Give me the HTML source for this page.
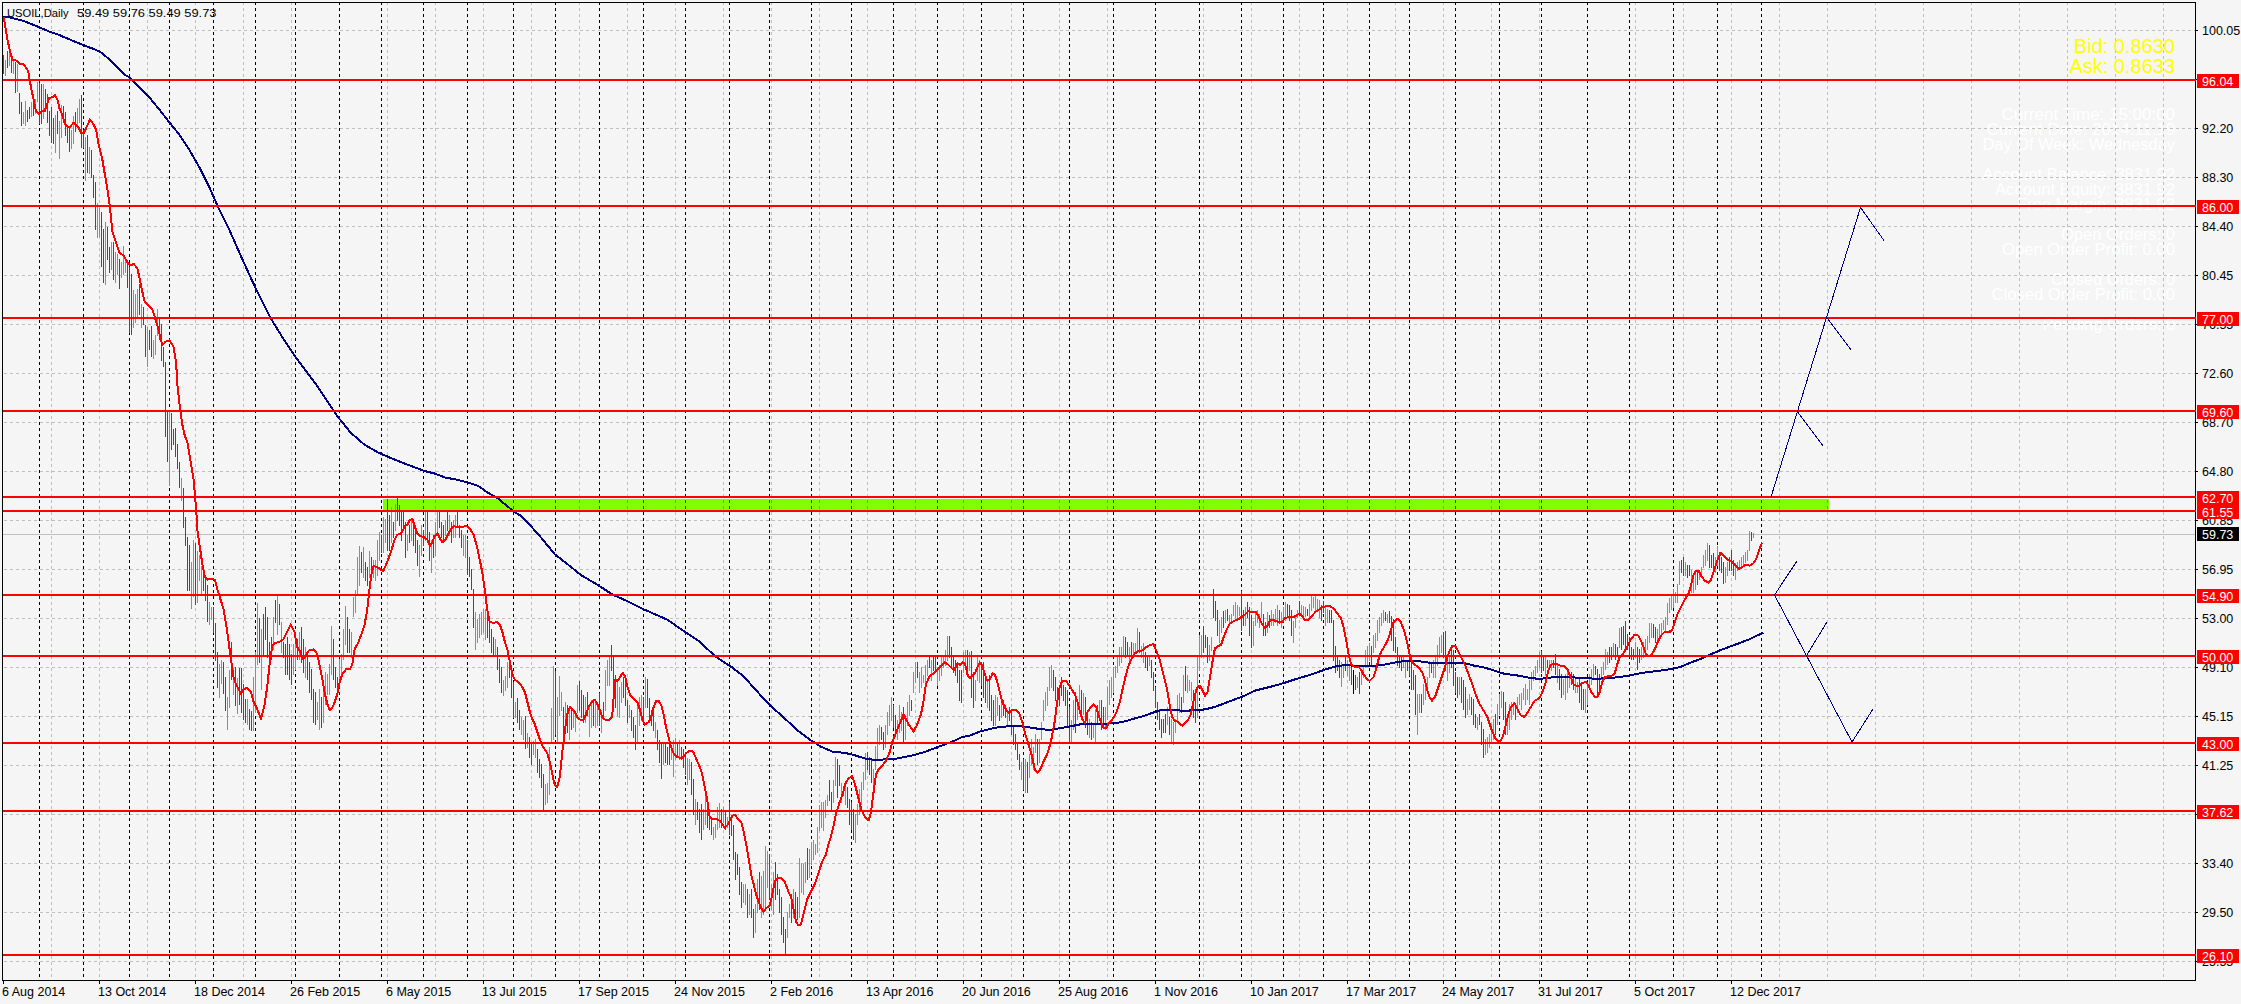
<!DOCTYPE html>
<html><head><meta charset="utf-8"><style>
html,body{margin:0;padding:0;background:#F5F5F5;width:2241px;height:1004px;overflow:hidden}
svg{display:block}
</style></head><body>
<svg width="2241" height="1004" viewBox="0 0 2241 1004" shape-rendering="crispEdges">
<text x="2175" y="120" font-family="Liberation Sans, sans-serif" font-size="16" fill="#FFF" text-anchor="end" textLength="173.4" lengthAdjust="spacingAndGlyphs">Current Time: 15:00:00</text>
<text x="2175" y="135" font-family="Liberation Sans, sans-serif" font-size="16" fill="#FFF" text-anchor="end" textLength="188.5" lengthAdjust="spacingAndGlyphs">Current Date: 2014.11.19</text>
<text x="2175" y="150" font-family="Liberation Sans, sans-serif" font-size="16" fill="#FFF" text-anchor="end" textLength="192.5" lengthAdjust="spacingAndGlyphs">Day Of Week: Wednesday</text>
<text x="2175" y="180" font-family="Liberation Sans, sans-serif" font-size="16" fill="#FFF" text-anchor="end" textLength="192.5" lengthAdjust="spacingAndGlyphs">Account Balance: 3831.92</text>
<text x="2175" y="195" font-family="Liberation Sans, sans-serif" font-size="16" fill="#FFF" text-anchor="end" textLength="180" lengthAdjust="spacingAndGlyphs">Account Equity: 3831.92</text>
<text x="2175" y="210" font-family="Liberation Sans, sans-serif" font-size="16" fill="#FFF" text-anchor="end" textLength="158" lengthAdjust="spacingAndGlyphs">Free Margin: 3831.92</text>
<text x="2175" y="240" font-family="Liberation Sans, sans-serif" font-size="16" fill="#FFF" text-anchor="end" textLength="114" lengthAdjust="spacingAndGlyphs">Open Orders: 0</text>
<text x="2175" y="255" font-family="Liberation Sans, sans-serif" font-size="16" fill="#FFF" text-anchor="end" textLength="173" lengthAdjust="spacingAndGlyphs">Open Order Profit: 0.00</text>
<text x="2175" y="285" font-family="Liberation Sans, sans-serif" font-size="16" fill="#FFF" text-anchor="end" textLength="124" lengthAdjust="spacingAndGlyphs">Closed Orders: 0</text>
<text x="2175" y="300" font-family="Liberation Sans, sans-serif" font-size="16" fill="#FFF" text-anchor="end" textLength="183.4" lengthAdjust="spacingAndGlyphs">Closed Order Profit: 0.00</text>
<text x="2175" y="330" font-family="Liberation Sans, sans-serif" font-size="16" fill="#FFF" text-anchor="end" textLength="132.6" lengthAdjust="spacingAndGlyphs">Pending Orders: 0</text>
<path d="M4 30.5H2195 M4 79.5H2195 M4 128.5H2195 M4 177.5H2195 M4 226.5H2195 M4 275.5H2195 M4 324.5H2195 M4 373.5H2195 M4 422.5H2195 M4 471.5H2195 M4 520.5H2195 M4 569.5H2195 M4 618.5H2195 M4 667.5H2195 M4 716.5H2195 M4 765.5H2195 M4 814.5H2195 M4 863.5H2195 M4 912.5H2195 M4 961.5H2195 M51.5 2V980 M99.5 2V980 M147.5 2V980 M195.5 2V980 M243.5 2V980 M291.5 2V980 M339.5 2V980 M387.5 2V980 M435.5 2V980 M483.5 2V980 M531.5 2V980 M579.5 2V980 M627.5 2V980 M675.5 2V980 M723.5 2V980 M771.5 2V980 M819.5 2V980 M867.5 2V980 M915.5 2V980 M963.5 2V980 M1011.5 2V980 M1059.5 2V980 M1107.5 2V980 M1155.5 2V980 M1203.5 2V980 M1251.5 2V980 M1299.5 2V980 M1347.5 2V980 M1395.5 2V980 M1443.5 2V980 M1491.5 2V980 M1539.5 2V980 M1587.5 2V980 M1635.5 2V980 M1683.5 2V980 M1731.5 2V980 M1779.5 2V980 M1827.5 2V980 M1875.5 2V980 M1923.5 2V980 M1971.5 2V980 M2019.5 2V980 M2067.5 2V980 M2115.5 2V980 M2163.5 2V980" stroke="#C0C0C0" stroke-width="1" stroke-dasharray="3 3" fill="none"/>
<path d="M39.5 2V980 M83.5 2V980 M129.5 2V980 M169.5 2V980 M213.5 2V980 M255.5 2V980 M295.5 2V980 M339.5 2V980 M381.5 2V980 M423.5 2V980 M467.5 2V980 M513.5 2V980 M555.5 2V980 M599.5 2V980 M643.5 2V980 M685.5 2V980 M729.5 2V980 M769.5 2V980 M811.5 2V980 M851.5 2V980 M893.5 2V980 M937.5 2V980 M981.5 2V980 M1023.5 2V980 M1069.5 2V980 M1113.5 2V980 M1155.5 2V980 M1199.5 2V980 M1241.5 2V980 M1283.5 2V980 M1323.5 2V980 M1369.5 2V980 M1409.5 2V980 M1455.5 2V980 M1499.5 2V980 M1541.5 2V980 M1587.5 2V980 M1629.5 2V980 M1673.5 2V980 M1717.5 2V980 M1761.5 2V980" stroke="#000" stroke-width="1" stroke-dasharray="3 3" fill="none"/>
<path d="M2.5 2.5H2195.5V980.5H2.5Z" stroke="#000" stroke-width="1" fill="none"/>
<rect x="383" y="499" width="1446" height="11" fill="#7FFF00"/>
<clipPath id="gc"><rect x="383" y="499" width="1446" height="11"/></clipPath>
<g clip-path="url(#gc)"><path d="M4 30.5H2195 M4 79.5H2195 M4 128.5H2195 M4 177.5H2195 M4 226.5H2195 M4 275.5H2195 M4 324.5H2195 M4 373.5H2195 M4 422.5H2195 M4 471.5H2195 M4 520.5H2195 M4 569.5H2195 M4 618.5H2195 M4 667.5H2195 M4 716.5H2195 M4 765.5H2195 M4 814.5H2195 M4 863.5H2195 M4 912.5H2195 M4 961.5H2195 M51.5 2V980 M99.5 2V980 M147.5 2V980 M195.5 2V980 M243.5 2V980 M291.5 2V980 M339.5 2V980 M387.5 2V980 M435.5 2V980 M483.5 2V980 M531.5 2V980 M579.5 2V980 M627.5 2V980 M675.5 2V980 M723.5 2V980 M771.5 2V980 M819.5 2V980 M867.5 2V980 M915.5 2V980 M963.5 2V980 M1011.5 2V980 M1059.5 2V980 M1107.5 2V980 M1155.5 2V980 M1203.5 2V980 M1251.5 2V980 M1299.5 2V980 M1347.5 2V980 M1395.5 2V980 M1443.5 2V980 M1491.5 2V980 M1539.5 2V980 M1587.5 2V980 M1635.5 2V980 M1683.5 2V980 M1731.5 2V980 M1779.5 2V980 M1827.5 2V980 M1875.5 2V980 M1923.5 2V980 M1971.5 2V980 M2019.5 2V980 M2067.5 2V980 M2115.5 2V980 M2163.5 2V980" stroke="#40C03F" stroke-width="1" stroke-dasharray="3 3" fill="none"/><path d="M39.5 2V980 M83.5 2V980 M129.5 2V980 M169.5 2V980 M213.5 2V980 M255.5 2V980 M295.5 2V980 M339.5 2V980 M381.5 2V980 M423.5 2V980 M467.5 2V980 M513.5 2V980 M555.5 2V980 M599.5 2V980 M643.5 2V980 M685.5 2V980 M729.5 2V980 M769.5 2V980 M811.5 2V980 M851.5 2V980 M893.5 2V980 M937.5 2V980 M981.5 2V980 M1023.5 2V980 M1069.5 2V980 M1113.5 2V980 M1155.5 2V980 M1199.5 2V980 M1241.5 2V980 M1283.5 2V980 M1323.5 2V980 M1369.5 2V980 M1409.5 2V980 M1455.5 2V980 M1499.5 2V980 M1541.5 2V980 M1587.5 2V980 M1629.5 2V980 M1673.5 2V980 M1717.5 2V980 M1761.5 2V980" stroke="#8000FF" stroke-width="1" stroke-dasharray="3 3" fill="none"/></g>
<rect x="3" y="534" width="2192" height="1" fill="#C0C0C0"/>
<path d="M5.5 60V76M9.5 51V66M13.5 61V74M17.5 64V92M23.5 112V124M25.5 101V126M31.5 102V117M35.5 99V114M37.5 82V102M43.5 84V119M55.5 115V153M59.5 121V159M61.5 105V138M71.5 130V149M73.5 116V144M77.5 108V127M79.5 99V123M85.5 137V181M89.5 147V174M97.5 203V238M99.5 208V237M105.5 222V285M111.5 242V270M115.5 252V283M117.5 254V275M121.5 262V278M123.5 246V275M125.5 257V273M133.5 290V328M135.5 294V323M137.5 289V318M141.5 304V328M147.5 327V367M153.5 340V359M155.5 335V355M157.5 309V336M169.5 412V486M181.5 478V501M191.5 562V609M193.5 540V597M197.5 551V603M199.5 555V581M201.5 566V596M209.5 602V625M211.5 607V620M219.5 664V698M221.5 660V684M227.5 697V730M229.5 670V708M233.5 668V695M237.5 678V714M247.5 699V725M253.5 677V731M255.5 652V713M257.5 603V665M261.5 629V690M273.5 617V650M277.5 596V635M281.5 622V653M293.5 644V675M295.5 644V670M299.5 632V660M305.5 647V678M317.5 702V720M319.5 689V730M323.5 684V723M325.5 672V705M327.5 674V695M329.5 664V695M331.5 626V675M339.5 659V688M341.5 654V678M343.5 629V660M345.5 606V645M351.5 632V658M353.5 597V617M355.5 590V613M357.5 557V596M359.5 546V586M363.5 547V578M369.5 551V578M373.5 560V578M375.5 560V581M377.5 540V576M379.5 532V561M383.5 517V553M385.5 519V543M391.5 507V543M395.5 504V531M407.5 535V551M411.5 520V541M419.5 545V577M421.5 525V556M425.5 512V541M431.5 540V573M435.5 522V556M437.5 512V536M445.5 520V536M449.5 515V536M453.5 520V538M455.5 515V538M463.5 535V556M465.5 535V558M475.5 612V650M477.5 619V643M479.5 614V638M481.5 612V635M483.5 609V633M485.5 609V640M495.5 639V655M503.5 680V696M505.5 676V691M507.5 662V688M515.5 702V718M521.5 717V735M523.5 720V740M527.5 733V748M533.5 741V755M535.5 739V758M545.5 784V805M547.5 783V803M549.5 747V795M551.5 708V743M553.5 666V740M557.5 697V743M559.5 676V716M561.5 692V711M565.5 702V726M569.5 707V740M573.5 712V728M575.5 713V732M577.5 685V713M585.5 697V723M589.5 707V737M591.5 700V728M595.5 700V728M597.5 705V726M601.5 710V733M605.5 670V711M607.5 660V686M609.5 657V686M617.5 682V716M619.5 687V718M621.5 682V703M629.5 705V718M637.5 705V743M639.5 697V726M641.5 695V721M645.5 677V708M655.5 722V738M663.5 744V765M671.5 749V760M673.5 740V777M675.5 738V760M679.5 740V760M687.5 758V785M689.5 759V780M695.5 799V825M703.5 809V830M705.5 794V825M713.5 827V840M715.5 824V838M717.5 807V830M719.5 803V828M723.5 807V823M727.5 817V828M743.5 884V903M745.5 884V905M749.5 894V915M755.5 904V933M757.5 879V913M761.5 876V918M763.5 871V915M765.5 846V908M767.5 851V888M771.5 884V910M773.5 872V915M787.5 912V938M789.5 904V918M793.5 889V918M799.5 858V918M801.5 863V893M803.5 864V895M805.5 862V883M809.5 849V878M811.5 842V865M813.5 840V860M815.5 844V855M817.5 827V853M819.5 805V831M821.5 802V828M823.5 802V831M825.5 800V818M827.5 795V806M833.5 780V803M835.5 757V786M841.5 783V803M845.5 782V805M855.5 814V843M857.5 804V825M859.5 789V815M861.5 782V805M863.5 772V790M865.5 753V780M873.5 769V790M875.5 746V770M877.5 728V760M879.5 725V745M885.5 725V748M887.5 712V735M889.5 705V726M891.5 697V721M897.5 720V740M899.5 705V733M901.5 712V731M905.5 715V740M907.5 702V726M909.5 695V716M913.5 672V693M915.5 662V683M919.5 672V693M921.5 667V688M923.5 675V683M925.5 665V683M927.5 660V676M931.5 660V681M937.5 667V686M939.5 665V681M941.5 657V676M943.5 657V668M945.5 650V666M947.5 636V661M963.5 652V673M965.5 650V666M969.5 652V671M975.5 680V701M977.5 657V681M979.5 660V683M987.5 682V708M995.5 695V726M997.5 697V716M1001.5 702V718M1007.5 710V726M1021.5 762V780M1025.5 759V793M1029.5 754V778M1031.5 739V765M1033.5 747V770M1035.5 734V753M1039.5 739V763M1041.5 722V740M1043.5 700V721M1045.5 692V711M1047.5 687V706M1049.5 667V691M1051.5 665V688M1071.5 720V743M1073.5 700V730M1077.5 702V720M1079.5 685V713M1083.5 693V715M1089.5 719V738M1093.5 724V738M1095.5 709V743M1099.5 700V720M1105.5 707V730M1107.5 687V720M1109.5 680V705M1111.5 677V698M1113.5 667V693M1115.5 666V678M1117.5 657V673M1119.5 647V666M1121.5 647V663M1123.5 636V656M1129.5 647V661M1133.5 643V656M1135.5 643V653M1137.5 628V651M1141.5 646V658M1143.5 643V663M1149.5 657V666M1167.5 707V725M1171.5 719V743M1173.5 722V745M1175.5 719V733M1177.5 695V723M1179.5 693V713M1183.5 675V703M1187.5 675V693M1189.5 680V691M1191.5 682V701M1197.5 657V718M1199.5 635V671M1201.5 635V658M1209.5 645V661M1211.5 637V651M1219.5 620V643M1221.5 617V633M1225.5 610V623M1229.5 615V623M1231.5 614V621M1233.5 605V616M1235.5 602V618M1237.5 605V618M1239.5 607V616M1245.5 607V626M1253.5 621V646M1255.5 612V626M1257.5 610V623M1259.5 614V628M1261.5 602V618M1267.5 612V633M1271.5 610V626M1273.5 614V626M1275.5 609V623M1277.5 605V626M1281.5 612V628M1283.5 607V621M1285.5 602V621M1293.5 621V643M1295.5 617V628M1297.5 610V618M1301.5 605V616M1303.5 606V616M1305.5 607V617M1309.5 604V618M1311.5 596V611M1313.5 597V608M1315.5 596V613M1317.5 599V611M1319.5 600V618M1325.5 607V626M1327.5 609V623M1341.5 662V687M1343.5 665V678M1347.5 660V676M1349.5 665V681M1357.5 677V688M1361.5 672V685M1363.5 665V678M1365.5 650V668M1367.5 646V666M1369.5 643V661M1373.5 635V653M1375.5 633V648M1377.5 620V641M1379.5 617V633M1381.5 613V626M1383.5 610V623M1387.5 614V623M1403.5 655V668M1405.5 660V678M1417.5 694V735M1419.5 694V713M1423.5 684V705M1425.5 682V700M1427.5 677V693M1429.5 661V678M1433.5 660V678M1435.5 657V678M1437.5 645V666M1439.5 637V658M1441.5 635V653M1447.5 660V681M1449.5 655V673M1459.5 677V695M1467.5 699V715M1469.5 694V710M1477.5 717V730M1485.5 739V755M1487.5 737V753M1489.5 734V748M1491.5 724V743M1493.5 719V740M1497.5 704V725M1499.5 694V715M1501.5 691V708M1507.5 714V735M1509.5 704V730M1511.5 702V720M1513.5 702V715M1517.5 697V713M1519.5 694V705M1521.5 693V710M1523.5 688V700M1525.5 684V705M1527.5 689V700M1529.5 680V705M1531.5 672V690M1533.5 670V681M1535.5 666V676M1537.5 660V673M1539.5 652V668M1545.5 655V676M1549.5 660V668M1551.5 660V671M1557.5 664V683M1563.5 679V695M1565.5 674V700M1567.5 672V693M1569.5 674V688M1575.5 679V693M1577.5 682V693M1585.5 689V713M1587.5 682V705M1589.5 674V690M1591.5 669V685M1593.5 664V680M1601.5 667V680M1603.5 662V675M1605.5 649V670M1607.5 652V665M1613.5 643V655M1619.5 628V648M1635.5 642V658M1641.5 647V660M1643.5 642V658M1645.5 639V650M1647.5 636V650M1649.5 623V643M1651.5 623V638M1657.5 629V643M1659.5 624V640M1661.5 623V635M1663.5 620V630M1665.5 617V633M1667.5 603V625M1669.5 598V613M1671.5 594V610M1673.5 589V608M1675.5 592V603M1677.5 584V603M1679.5 561V585M1685.5 562V576M1691.5 570V593M1693.5 577V593M1695.5 572V590M1699.5 572V580M1701.5 567V578M1703.5 555V568M1705.5 550V566M1707.5 543V561M1715.5 557V573M1717.5 546V566M1725.5 567V583M1727.5 562V576M1735.5 563V580M1737.5 562V571M1739.5 560V568M1741.5 557V568M1743.5 555V566M1745.5 552V563M1747.5 550V561M1749.5 531V551M1753.5 533V538" stroke="#32CD32" stroke-width="1" fill="none"/>
<path d="M3.5 55V74M7.5 51V68M11.5 58V73M15.5 62V93M19.5 93V114M21.5 102V126M27.5 110V122M29.5 107V119M33.5 103V116M39.5 83V124M41.5 84V124M45.5 89V112M47.5 94V123M49.5 111V136M51.5 107V143M53.5 118V144M57.5 111V134M63.5 106V123M65.5 112V136M67.5 125V143M69.5 127V152M75.5 112V132M81.5 95V148M83.5 130V148M87.5 135V173M91.5 150V178M93.5 175V198M95.5 182V230M101.5 212V267M103.5 229V283M107.5 227V260M109.5 247V273M113.5 242V280M119.5 259V289M127.5 264V288M129.5 267V333M131.5 274V335M139.5 284V315M143.5 307V325M145.5 325V357M149.5 330V350M151.5 326V357M159.5 317V340M161.5 324V361M163.5 347V367M165.5 362V437M167.5 412V462M171.5 413V450M173.5 429V445M175.5 428V457M177.5 444V469M179.5 462V488M183.5 488V528M185.5 517V546M187.5 537V591M189.5 545V591M195.5 543V605M203.5 575V591M205.5 576V601M207.5 585V622M213.5 607V633M215.5 623V661M217.5 652V688M223.5 662V694M225.5 677V711M231.5 642V680M235.5 667V706M239.5 668V705M241.5 668V713M243.5 684V720M245.5 699V723M249.5 709V730M251.5 711V731M259.5 618V663M263.5 614V655M265.5 607V640M267.5 617V658M269.5 642V673M271.5 637V660M275.5 600V623M279.5 604V625M283.5 642V658M285.5 644V675M287.5 637V675M289.5 644V680M291.5 654V685M297.5 639V660M301.5 627V663M303.5 639V673M307.5 652V680M309.5 662V693M311.5 669V700M313.5 689V723M315.5 692V725M321.5 697V728M333.5 639V680M335.5 667V688M337.5 677V695M347.5 617V653M349.5 629V653M361.5 552V573M365.5 562V581M367.5 567V586M371.5 557V581M381.5 535V553M387.5 499V551M389.5 515V551M393.5 522V538M397.5 497V521M399.5 505V526M401.5 512V541M403.5 510V531M405.5 522V558M409.5 525V543M413.5 522V546M415.5 527V553M417.5 540V566M423.5 530V546M427.5 512V543M429.5 532V561M433.5 535V558M439.5 510V528M441.5 522V538M443.5 525V541M447.5 510V531M451.5 522V543M457.5 511V528M459.5 525V538M461.5 530V548M467.5 540V575M469.5 557V577M471.5 569V590M473.5 589V628M487.5 614V638M489.5 622V643M491.5 629V653M493.5 637V655M497.5 647V670M499.5 659V683M501.5 667V693M509.5 665V678M511.5 672V698M513.5 682V718M517.5 698V723M519.5 710V730M525.5 716V749M529.5 737V758M531.5 742V765M537.5 749V773M539.5 759V778M541.5 764V788M543.5 774V811M555.5 671V735M563.5 707V737M567.5 705V733M571.5 710V730M579.5 681V711M581.5 690V718M583.5 695V723M587.5 692V716M593.5 702V726M599.5 693V726M603.5 702V718M611.5 645V671M613.5 655V693M615.5 675V708M623.5 677V698M625.5 682V706M627.5 700V723M631.5 710V731M633.5 717V738M635.5 725V750M643.5 697V721M647.5 679V708M649.5 698V718M651.5 710V726M653.5 712V731M657.5 730V750M659.5 740V763M661.5 744V779M665.5 744V763M667.5 747V765M669.5 742V765M677.5 744V758M681.5 747V760M683.5 749V768M685.5 754V775M691.5 762V795M693.5 779V815M697.5 802V820M699.5 809V833M701.5 804V840M707.5 802V828M709.5 809V830M711.5 817V835M721.5 809V828M725.5 812V830M729.5 802V835M731.5 815V836M733.5 825V860M735.5 852V880M737.5 854V875M739.5 867V895M741.5 882V908M747.5 889V918M751.5 889V918M753.5 909V938M759.5 872V910M769.5 854V900M775.5 862V900M777.5 874V895M779.5 889V913M781.5 897V935M783.5 917V943M785.5 929V956M791.5 894V923M795.5 892V920M797.5 897V920M807.5 848V880M829.5 780V801M831.5 792V811M837.5 759V798M839.5 765V786M843.5 786V796M847.5 787V808M849.5 799V825M851.5 802V830M853.5 809V840M867.5 752V770M869.5 757V775M871.5 759V783M881.5 727V740M883.5 732V750M893.5 705V728M895.5 715V735M903.5 707V743M911.5 700V711M917.5 662V678M929.5 655V668M933.5 655V671M935.5 657V673M949.5 636V658M951.5 647V668M953.5 655V673M955.5 660V676M957.5 662V683M959.5 670V701M961.5 670V703M967.5 650V676M971.5 651V698M973.5 672V708M981.5 662V686M983.5 662V698M985.5 675V703M989.5 675V711M991.5 695V721M993.5 700V726M999.5 705V721M1003.5 700V716M1005.5 705V718M1009.5 707V721M1011.5 712V735M1013.5 725V745M1015.5 734V750M1017.5 742V760M1019.5 754V770M1023.5 759V790M1027.5 762V793M1037.5 739V765M1053.5 670V691M1055.5 677V701M1057.5 687V706M1059.5 687V706M1061.5 677V696M1063.5 685V701M1065.5 687V706M1067.5 690V726M1069.5 707V743M1075.5 692V733M1081.5 690V720M1085.5 697V728M1087.5 712V735M1091.5 722V740M1097.5 705V725M1101.5 700V730M1103.5 707V725M1125.5 637V658M1127.5 642V656M1131.5 642V656M1139.5 632V653M1145.5 652V668M1147.5 655V671M1151.5 660V678M1153.5 672V691M1155.5 687V708M1157.5 702V720M1159.5 709V730M1161.5 719V738M1163.5 719V733M1165.5 714V733M1169.5 717V735M1181.5 697V713M1185.5 666V691M1193.5 690V718M1195.5 689V723M1203.5 626V653M1205.5 635V648M1207.5 637V663M1213.5 589V618M1215.5 601V621M1217.5 610V636M1223.5 611V628M1227.5 609V621M1241.5 591V631M1243.5 610V626M1247.5 602V618M1249.5 607V636M1251.5 615V648M1263.5 614V636M1265.5 622V636M1269.5 615V628M1279.5 610V624M1287.5 604V616M1289.5 605V621M1291.5 610V636M1299.5 601V616M1307.5 609V616M1321.5 605V621M1323.5 601V613M1329.5 610V623M1331.5 610V623M1333.5 620V661M1335.5 646V673M1337.5 656V671M1339.5 660V678M1345.5 655V671M1351.5 667V685M1355.5 675V690M1359.5 672V694M1371.5 646V666M1385.5 612V621M1389.5 611V623M1391.5 616V641M1393.5 619V651M1395.5 637V653M1397.5 647V666M1399.5 655V668M1401.5 657V671M1407.5 662V671M1409.5 655V676M1411.5 662V690M1413.5 670V690M1415.5 675V715M1421.5 694V713M1431.5 662V673M1443.5 632V658M1445.5 631V671M1451.5 647V668M1453.5 650V686M1455.5 672V693M1457.5 677V698M1461.5 677V703M1463.5 680V710M1465.5 687V718M1471.5 697V715M1473.5 699V725M1475.5 714V728M1479.5 714V725M1481.5 722V745M1483.5 729V758M1495.5 714V735M1503.5 692V720M1505.5 702V735M1515.5 703V720M1541.5 651V673M1543.5 655V671M1547.5 660V668M1553.5 660V668M1555.5 654V675M1559.5 669V690M1561.5 674V698M1571.5 672V685M1573.5 674V690M1579.5 677V703M1581.5 682V710M1583.5 689V710M1595.5 666V675M1597.5 669V695M1599.5 674V695M1609.5 647V663M1611.5 647V660M1615.5 644V660M1617.5 647V655M1621.5 627V650M1623.5 626V645M1625.5 621V650M1627.5 634V650M1629.5 637V655M1631.5 647V660M1633.5 649V660M1637.5 647V670M1639.5 649V663M1653.5 624V638M1655.5 627V643M1681.5 560V573M1683.5 557V576M1687.5 565V578M1689.5 565V576M1697.5 570V585M1709.5 545V568M1711.5 555V568M1713.5 553V571M1719.5 552V571M1721.5 557V573M1723.5 562V584M1729.5 557V571M1731.5 550V571M1733.5 560V576M1751.5 532V541" stroke="#F00" stroke-width="1" fill="none"/>
<path d="M1353.5 670V694" stroke="#000" stroke-width="1" fill="none"/>
<path d="M3.1 16.8 L7.5 16.8 L12.5 18.1 L19.9 19.9 L27.4 22.4 L34.9 25.5 L42.3 28.6 L49.8 31.8 L57.3 34.2 L64.8 37.4 L72.2 40.5 L79.7 43.6 L87.2 46.7 L94.6 49.2 L100.9 52.3 L108.3 58.5 L115.8 66.0 L124.5 74.7 L129.5 77.4 L139.4 87.3 L149.4 97.3 L159.4 109.7 L169.3 122.2 L179.3 134.6 L189.2 149.6 L199.2 167.0 L209.2 186.9 L219.1 209.3 L229.1 229.2 L239.0 251.7 L249.0 274.0 L256.2 289.5 L270.2 317.4 L284.1 340.0 L294.6 355.7 L305.1 369.7 L315.5 383.6 L326.0 399.3 L336.4 415.0 L350.4 432.4 L364.3 444.6 L378.3 452.6 L392.2 458.6 L405.0 463.7 L415.0 467.4 L424.9 471.1 L434.9 473.6 L444.8 477.4 L454.8 479.3 L467.3 482.3 L478.5 486.1 L487.2 492.3 L497.1 497.8 L507.1 506.0 L514.6 512.2 L520.0 515.3 L531.2 526.5 L542.3 539.0 L554.9 554.4 L567.4 564.1 L581.3 575.3 L598.1 585.1 L612.0 594.3 L628.8 601.8 L642.7 608.8 L653.9 613.8 L667.8 619.9 L681.7 629.7 L698.5 640.8 L715.2 656.2 L731.9 667.3 L743.1 675.7 L754.2 688.2 L768.2 703.6 L782.1 716.1 L798.9 731.5 L810.0 739.8 L821.2 746.8 L832.3 751.5 L846.3 753.2 L854.6 755.2 L865.8 758.8 L874.9 759.9 L884.8 759.4 L894.8 758.9 L904.8 756.9 L914.7 754.9 L924.7 751.9 L934.6 748.2 L944.6 744.5 L954.6 740.7 L962.0 737.0 L969.5 735.7 L979.9 731.5 L989.9 729.0 L999.8 727.0 L1009.8 726.2 L1019.8 726.2 L1029.7 727.5 L1039.7 729.0 L1049.6 730.0 L1059.6 728.2 L1069.6 726.5 L1079.5 724.5 L1094.9 723.9 L1104.9 723.7 L1114.8 723.2 L1124.8 721.4 L1134.8 718.4 L1144.7 715.7 L1154.7 712.0 L1162.2 710.0 L1169.6 710.0 L1179.6 710.5 L1189.5 710.5 L1205.0 709.4 L1214.9 706.9 L1224.9 703.2 L1234.8 699.4 L1244.8 695.7 L1254.8 690.7 L1264.7 688.2 L1274.7 685.7 L1284.6 682.8 L1294.6 679.5 L1304.6 676.5 L1314.5 673.3 L1325.0 669.6 L1334.9 666.6 L1344.9 665.1 L1354.8 665.8 L1364.8 666.3 L1374.8 665.8 L1384.7 664.6 L1394.7 662.6 L1404.6 660.8 L1414.6 660.6 L1424.6 662.1 L1434.5 663.3 L1445.0 663.3 L1454.9 662.6 L1464.9 663.3 L1474.8 665.8 L1484.8 667.6 L1494.8 670.8 L1502.2 673.3 L1509.7 674.5 L1519.7 675.8 L1529.6 677.8 L1539.6 679.0 L1544.6 678.3 L1554.5 677.0 L1565.0 677.3 L1574.9 677.5 L1584.9 677.8 L1594.8 678.8 L1604.8 678.3 L1614.8 677.5 L1624.7 676.3 L1634.7 674.3 L1644.6 672.6 L1654.6 671.3 L1664.6 670.1 L1674.5 668.3 L1680.0 667.1 L1689.9 662.9 L1699.9 659.2 L1709.8 654.7 L1719.8 650.4 L1729.8 646.7 L1739.7 643.0 L1749.7 639.2 L1757.2 635.5 L1763.4 633.0" stroke="#000080" stroke-width="2" fill="none" stroke-linejoin="round"/>
<path d="M3.7 17.4 L7.5 40.0 L10.0 51.0 L12.5 60.0 L16.0 60.5 L20.0 63.7 L23.7 64.3 L26.0 68.0 L28.0 70.5 L29.3 77.4 L31.0 87.3 L33.6 99.8 L36.0 111.0 L38.6 114.0 L41.0 111.6 L44.8 110.4 L47.3 103.5 L49.2 97.9 L52.3 97.3 L54.8 94.8 L57.3 99.2 L59.8 109.7 L62.3 114.7 L64.8 123.4 L67.2 126.5 L69.7 127.2 L73.5 122.8 L76.0 124.7 L78.5 127.2 L81.0 132.8 L83.7 133.6 L87.5 125.0 L90.0 119.4 L93.7 124.9 L96.2 129.9 L98.7 144.8 L102.4 159.8 L104.9 174.7 L107.4 189.6 L109.9 207.0 L112.4 232.0 L114.9 239.4 L117.4 246.9 L119.8 253.1 L123.6 255.6 L127.3 261.9 L131.0 265.6 L133.5 263.8 L137.3 268.0 L139.8 279.3 L142.3 291.7 L144.7 301.7 L148.5 305.4 L152.2 309.2 L154.7 316.6 L158.4 329.1 L162.2 345.3 L165.9 341.5 L169.6 340.3 L173.4 346.5 L176.1 362.2 L177.4 384.7 L179.8 407.0 L182.3 424.5 L184.8 435.7 L187.3 441.9 L189.8 456.9 L193.7 480.0 L194.9 494.9 L196.2 509.9 L197.4 529.8 L199.9 547.2 L202.4 564.7 L204.9 577.1 L207.4 579.6 L211.1 579.1 L214.9 579.6 L217.4 589.6 L219.8 597.0 L223.6 609.5 L226.1 624.4 L228.6 641.9 L231.0 659.3 L233.5 676.7 L236.0 684.2 L238.5 689.2 L241.0 694.1 L243.5 689.2 L247.2 687.9 L251.0 691.7 L253.5 701.6 L257.2 709.1 L260.9 719.0 L264.7 704.1 L267.2 686.7 L269.6 664.3 L272.1 646.8 L274.6 643.1 L279.6 641.9 L283.3 639.4 L287.1 631.9 L290.8 624.4 L294.5 631.9 L297.0 646.8 L299.5 650.6 L303.3 659.3 L304.9 656.8 L308.7 650.6 L313.7 649.3 L317.4 654.3 L319.9 666.8 L322.4 679.2 L324.9 694.1 L327.4 704.1 L329.8 710.3 L332.3 707.8 L334.8 701.6 L337.3 694.1 L339.8 681.7 L342.3 674.2 L346.0 669.2 L349.8 669.2 L352.3 664.3 L354.7 649.3 L358.5 641.9 L362.2 631.9 L364.7 624.4 L367.2 609.5 L369.2 592.0 L370.9 577.1 L373.4 565.9 L377.2 567.1 L380.9 569.6 L383.4 570.9 L387.1 562.2 L390.8 552.2 L394.6 539.8 L397.1 534.8 L400.8 533.5 L403.3 529.8 L405.0 525.9 L407.5 524.7 L410.0 519.7 L412.5 519.2 L415.0 527.2 L417.5 533.4 L419.9 535.9 L423.7 537.1 L427.4 539.6 L429.9 545.8 L432.4 542.1 L434.9 535.9 L437.4 533.4 L439.9 538.4 L442.4 542.1 L444.8 540.8 L447.3 535.9 L449.8 530.9 L453.6 525.9 L457.3 527.2 L462.3 527.2 L466.0 525.9 L469.7 528.4 L473.5 534.6 L477.2 547.1 L479.7 559.5 L482.2 572.0 L484.7 589.4 L487.2 609.3 L489.7 621.8 L493.4 623.0 L497.1 621.8 L500.0 624.9 L502.5 632.4 L505.0 642.3 L507.5 649.8 L510.0 662.3 L512.5 674.7 L514.9 679.7 L518.7 682.2 L522.4 687.2 L524.9 692.1 L527.4 702.1 L529.9 712.0 L532.4 719.5 L534.9 724.5 L537.4 732.0 L539.8 739.4 L542.3 745.7 L544.8 749.4 L547.3 753.1 L549.8 761.9 L552.3 774.3 L554.8 785.5 L557.3 786.8 L559.8 776.8 L562.3 751.9 L564.7 732.0 L567.2 714.5 L569.7 707.1 L572.2 709.6 L574.7 712.0 L577.2 717.0 L579.7 719.5 L583.4 719.5 L585.9 714.5 L588.4 707.1 L590.9 703.3 L594.6 699.6 L597.1 703.3 L599.6 709.6 L602.1 717.0 L604.6 719.5 L609.6 719.5 L612.1 717.0 L615.0 679.8 L617.5 681.0 L620.0 677.3 L622.5 672.8 L625.0 676.0 L627.5 687.2 L630.0 694.7 L633.7 698.4 L637.4 702.2 L639.9 709.6 L642.4 719.6 L644.9 724.6 L648.6 722.1 L651.1 717.1 L653.6 707.2 L656.1 700.9 L658.6 700.9 L661.1 704.7 L663.6 714.6 L666.0 727.1 L668.5 737.0 L671.0 747.0 L673.5 753.2 L677.3 757.0 L681.0 758.2 L683.5 757.0 L686.0 753.2 L688.5 751.5 L690.9 750.7 L693.4 752.0 L695.9 758.2 L699.7 766.9 L702.2 774.4 L704.6 786.8 L707.1 799.3 L709.6 816.7 L712.1 819.2 L717.1 819.2 L720.8 821.7 L724.6 827.9 L728.3 824.2 L730.0 819.6 L732.5 815.9 L735.0 814.6 L737.5 818.4 L741.2 822.1 L743.7 832.0 L746.2 844.5 L748.7 859.4 L751.2 874.4 L753.7 884.3 L756.1 894.3 L758.6 901.8 L761.1 908.0 L763.6 911.7 L766.1 908.0 L769.8 905.5 L772.3 894.3 L774.8 881.9 L777.3 878.1 L781.0 878.1 L784.8 881.9 L788.5 891.8 L791.0 896.8 L793.5 909.2 L796.0 921.7 L798.5 925.4 L801.0 924.2 L803.5 914.2 L807.2 899.3 L809.7 894.3 L812.2 889.3 L814.7 884.3 L817.2 876.9 L819.6 869.4 L822.1 861.9 L825.9 854.5 L828.4 844.5 L830.8 837.0 L833.3 827.1 L835.8 814.6 L839.6 802.2 L843.3 792.2 L845.0 784.3 L848.7 778.1 L852.0 776.3 L855.0 784.3 L858.7 799.2 L861.2 809.2 L864.9 816.7 L868.7 820.4 L871.1 811.7 L873.6 791.8 L876.1 774.3 L878.6 769.4 L882.4 765.6 L886.1 760.6 L889.8 751.9 L892.3 742.0 L894.8 735.7 L897.3 729.5 L901.0 720.8 L903.5 714.6 L906.0 719.6 L909.7 725.8 L913.5 731.5 L917.2 724.5 L920.9 714.6 L923.4 702.1 L925.9 684.7 L929.7 676.0 L933.4 673.5 L937.1 669.8 L940.9 666.0 L944.6 662.3 L948.3 664.8 L952.1 668.5 L954.6 669.8 L957.0 663.5 L960.0 664.7 L962.5 662.3 L965.0 663.5 L967.5 674.7 L970.0 678.4 L972.5 675.9 L974.9 673.5 L977.4 667.2 L979.9 662.3 L982.4 666.0 L984.9 674.7 L987.4 680.9 L989.9 679.7 L992.4 673.5 L994.9 674.7 L997.4 682.2 L999.8 692.1 L1002.3 702.1 L1004.8 707.1 L1008.6 713.3 L1012.3 709.6 L1016.0 709.6 L1019.8 714.5 L1022.3 722.0 L1024.7 732.0 L1028.5 744.4 L1032.2 756.9 L1034.7 769.3 L1037.2 772.6 L1039.7 770.6 L1043.4 761.9 L1047.2 754.4 L1050.9 741.9 L1054.6 722.0 L1057.1 702.1 L1059.6 687.2 L1062.1 680.9 L1065.8 680.9 L1069.6 685.9 L1073.3 692.1 L1075.0 694.5 L1077.5 702.0 L1080.0 712.0 L1082.5 719.4 L1085.0 723.2 L1087.5 712.0 L1090.0 708.2 L1093.7 704.5 L1096.2 707.0 L1098.7 715.7 L1101.1 721.9 L1103.6 728.2 L1106.1 728.2 L1108.6 723.2 L1112.4 719.4 L1116.1 713.2 L1119.8 702.0 L1123.6 684.6 L1126.0 674.6 L1128.5 665.9 L1131.0 659.7 L1134.8 653.5 L1138.5 651.0 L1142.2 650.5 L1146.0 647.2 L1149.7 645.2 L1153.4 644.2 L1155.9 649.7 L1159.7 659.7 L1162.2 669.6 L1164.6 679.6 L1167.1 689.6 L1169.6 704.5 L1172.1 717.0 L1174.6 720.7 L1178.3 721.9 L1182.1 725.7 L1184.6 723.2 L1188.3 719.4 L1190.8 714.5 L1193.3 702.0 L1195.0 694.5 L1197.5 687.0 L1200.0 685.7 L1202.5 690.7 L1205.0 695.7 L1207.5 692.0 L1210.0 677.0 L1212.4 662.1 L1214.9 648.4 L1218.7 645.9 L1221.1 644.7 L1223.6 637.2 L1226.1 631.0 L1229.9 623.5 L1233.6 621.0 L1237.3 619.8 L1241.1 617.3 L1244.8 614.8 L1248.5 611.0 L1252.3 612.3 L1256.0 612.3 L1258.5 616.0 L1261.0 622.3 L1264.7 627.7 L1267.2 626.0 L1269.7 621.0 L1272.2 619.8 L1275.9 621.0 L1279.7 622.3 L1282.2 622.3 L1284.6 618.5 L1288.4 616.8 L1292.1 617.3 L1295.8 616.0 L1299.6 613.5 L1302.1 616.0 L1304.6 619.8 L1308.3 619.8 L1310.8 617.3 L1315.0 612.3 L1318.7 609.8 L1322.5 607.3 L1326.2 606.1 L1329.9 606.1 L1333.7 608.6 L1337.4 613.5 L1341.1 618.5 L1343.6 627.2 L1346.1 639.7 L1348.6 654.6 L1351.1 664.6 L1354.8 667.1 L1358.6 667.1 L1361.1 669.6 L1363.6 674.5 L1367.3 679.5 L1369.8 680.8 L1373.5 677.0 L1376.0 669.6 L1378.5 659.6 L1381.0 652.1 L1384.7 645.9 L1388.5 638.4 L1390.9 629.7 L1393.4 622.3 L1397.2 618.5 L1400.9 622.3 L1404.6 632.2 L1407.1 642.2 L1409.6 654.6 L1412.1 662.1 L1414.6 664.6 L1418.3 667.1 L1422.1 672.0 L1424.6 679.5 L1427.1 689.5 L1429.5 696.9 L1432.0 700.7 L1435.0 697.0 L1437.5 689.5 L1440.0 682.0 L1442.5 674.5 L1445.0 667.1 L1447.5 657.1 L1450.0 649.6 L1452.4 645.9 L1454.9 645.9 L1457.4 649.6 L1459.9 654.6 L1462.4 659.6 L1464.9 664.6 L1468.6 674.5 L1472.4 684.5 L1476.1 695.7 L1479.8 704.4 L1483.6 710.6 L1487.3 716.9 L1489.8 724.3 L1492.3 731.8 L1496.0 739.3 L1498.5 741.8 L1501.0 740.5 L1503.5 734.3 L1506.0 724.3 L1508.5 714.4 L1510.9 706.9 L1514.7 703.2 L1517.2 708.2 L1520.9 715.6 L1524.6 716.9 L1527.1 713.1 L1530.9 706.9 L1534.6 700.7 L1538.3 698.7 L1540.8 695.7 L1543.3 689.5 L1545.8 682.0 L1548.3 670.8 L1550.8 664.6 L1555.0 664.3 L1557.5 664.3 L1560.0 665.6 L1563.7 665.6 L1567.5 669.3 L1569.9 675.5 L1573.7 684.3 L1576.2 685.5 L1579.9 685.5 L1582.4 683.0 L1586.1 681.8 L1588.6 685.5 L1591.1 691.7 L1594.8 696.7 L1597.3 696.7 L1599.8 691.7 L1602.3 681.8 L1604.8 676.8 L1608.5 676.3 L1612.3 675.5 L1614.8 673.1 L1617.3 664.3 L1619.7 656.9 L1623.5 653.1 L1627.2 646.9 L1630.9 639.4 L1634.7 634.5 L1638.4 635.7 L1640.9 640.7 L1643.4 646.9 L1645.9 654.4 L1648.4 656.4 L1650.9 655.6 L1653.4 651.9 L1655.8 646.9 L1658.3 640.7 L1660.8 635.7 L1664.6 632.0 L1669.5 631.5 L1670.0 631.8 L1672.5 629.3 L1675.0 621.8 L1677.5 614.3 L1681.2 606.9 L1684.9 599.4 L1688.7 593.2 L1691.2 584.5 L1693.7 574.5 L1696.1 570.8 L1698.6 570.8 L1701.1 575.7 L1704.9 580.7 L1708.6 582.7 L1711.1 579.5 L1713.6 572.0 L1716.1 564.5 L1718.6 557.1 L1721.0 553.3 L1723.5 555.8 L1727.3 559.6 L1731.0 560.8 L1734.7 564.5 L1738.5 569.0 L1742.2 567.0 L1745.9 564.5 L1749.7 565.8 L1753.4 563.3 L1755.9 559.6 L1758.4 552.1 L1762.1 542.6" stroke="#F00" stroke-width="2" fill="none" stroke-linejoin="round"/>
<rect x="3" y="79" width="2193" height="2" fill="#F00"/>
<rect x="3" y="205" width="2193" height="2" fill="#F00"/>
<rect x="3" y="317" width="2193" height="2" fill="#F00"/>
<rect x="3" y="410" width="2193" height="2" fill="#F00"/>
<rect x="3" y="496" width="2193" height="2" fill="#F00"/>
<rect x="3" y="510" width="2193" height="2" fill="#F00"/>
<rect x="3" y="594" width="2193" height="2" fill="#F00"/>
<rect x="3" y="655" width="2193" height="2" fill="#F00"/>
<rect x="3" y="742" width="2193" height="2" fill="#F00"/>
<rect x="3" y="810" width="2193" height="2" fill="#F00"/>
<rect x="3" y="954" width="2193" height="2" fill="#F00"/>
<path d="M1771 497L1860.5 207.5L1884 240.5M1826.5 317L1851.5 350.5M1798 412.5L1823.5 446.5M1797 561L1774.5 595L1852 742L1873 709M1806.5 655.5L1827 622" stroke="#000080" stroke-width="1" fill="none"/>
<path d="M2196 30.5h2 M2196 79.5h2 M2196 128.5h2 M2196 177.5h2 M2196 226.5h2 M2196 275.5h2 M2196 324.5h2 M2196 373.5h2 M2196 422.5h2 M2196 471.5h2 M2196 520.5h2 M2196 569.5h2 M2196 618.5h2 M2196 667.5h2 M2196 716.5h2 M2196 765.5h2 M2196 814.5h2 M2196 863.5h2 M2196 912.5h2 M2196 961.5h2 M3.5 981v3 M99.5 981v3 M195.5 981v3 M291.5 981v3 M387.5 981v3 M483.5 981v3 M579.5 981v3 M675.5 981v3 M771.5 981v3 M867.5 981v3 M963.5 981v3 M1059.5 981v3 M1155.5 981v3 M1251.5 981v3 M1347.5 981v3 M1443.5 981v3 M1539.5 981v3 M1635.5 981v3 M1731.5 981v3" stroke="#000" stroke-width="1" fill="none"/>
<text x="2202" y="34.5" font-family="Liberation Sans, sans-serif" font-size="12.5" fill="#000">100.05</text>
<text x="2202" y="83.5" font-family="Liberation Sans, sans-serif" font-size="12.5" fill="#000">96.15</text>
<text x="2202" y="132.5" font-family="Liberation Sans, sans-serif" font-size="12.5" fill="#000">92.20</text>
<text x="2202" y="181.5" font-family="Liberation Sans, sans-serif" font-size="12.5" fill="#000">88.30</text>
<text x="2202" y="230.5" font-family="Liberation Sans, sans-serif" font-size="12.5" fill="#000">84.40</text>
<text x="2202" y="279.5" font-family="Liberation Sans, sans-serif" font-size="12.5" fill="#000">80.45</text>
<text x="2202" y="328.5" font-family="Liberation Sans, sans-serif" font-size="12.5" fill="#000">76.55</text>
<text x="2202" y="377.5" font-family="Liberation Sans, sans-serif" font-size="12.5" fill="#000">72.60</text>
<text x="2202" y="426.5" font-family="Liberation Sans, sans-serif" font-size="12.5" fill="#000">68.70</text>
<text x="2202" y="475.5" font-family="Liberation Sans, sans-serif" font-size="12.5" fill="#000">64.80</text>
<text x="2202" y="524.5" font-family="Liberation Sans, sans-serif" font-size="12.5" fill="#000">60.85</text>
<text x="2202" y="573.5" font-family="Liberation Sans, sans-serif" font-size="12.5" fill="#000">56.95</text>
<text x="2202" y="622.5" font-family="Liberation Sans, sans-serif" font-size="12.5" fill="#000">53.00</text>
<text x="2202" y="671.5" font-family="Liberation Sans, sans-serif" font-size="12.5" fill="#000">49.10</text>
<text x="2202" y="720.5" font-family="Liberation Sans, sans-serif" font-size="12.5" fill="#000">45.15</text>
<text x="2202" y="769.5" font-family="Liberation Sans, sans-serif" font-size="12.5" fill="#000">41.25</text>
<text x="2202" y="818.5" font-family="Liberation Sans, sans-serif" font-size="12.5" fill="#000">37.35</text>
<text x="2202" y="867.5" font-family="Liberation Sans, sans-serif" font-size="12.5" fill="#000">33.40</text>
<text x="2202" y="916.5" font-family="Liberation Sans, sans-serif" font-size="12.5" fill="#000">29.50</text>
<text x="2202" y="965.5" font-family="Liberation Sans, sans-serif" font-size="12.5" fill="#000">25.55</text>
<rect x="2197" y="74" width="42" height="14" fill="#F00"/>
<text x="2202" y="85.5" font-family="Liberation Sans, sans-serif" font-size="12.5" fill="#FFF">96.04</text>
<rect x="2197" y="200" width="42" height="14" fill="#F00"/>
<text x="2202" y="211.5" font-family="Liberation Sans, sans-serif" font-size="12.5" fill="#FFF">86.00</text>
<rect x="2197" y="312" width="42" height="14" fill="#F00"/>
<text x="2202" y="323.5" font-family="Liberation Sans, sans-serif" font-size="12.5" fill="#FFF">77.00</text>
<rect x="2197" y="405" width="42" height="14" fill="#F00"/>
<text x="2202" y="416.5" font-family="Liberation Sans, sans-serif" font-size="12.5" fill="#FFF">69.60</text>
<rect x="2197" y="491" width="42" height="14" fill="#F00"/>
<text x="2202" y="502.5" font-family="Liberation Sans, sans-serif" font-size="12.5" fill="#FFF">62.70</text>
<rect x="2197" y="505" width="42" height="14" fill="#F00"/>
<text x="2202" y="516.5" font-family="Liberation Sans, sans-serif" font-size="12.5" fill="#FFF">61.55</text>
<rect x="2197" y="589" width="42" height="14" fill="#F00"/>
<text x="2202" y="600.5" font-family="Liberation Sans, sans-serif" font-size="12.5" fill="#FFF">54.90</text>
<rect x="2197" y="650" width="42" height="14" fill="#F00"/>
<text x="2202" y="661.5" font-family="Liberation Sans, sans-serif" font-size="12.5" fill="#FFF">50.00</text>
<rect x="2197" y="737" width="42" height="14" fill="#F00"/>
<text x="2202" y="748.5" font-family="Liberation Sans, sans-serif" font-size="12.5" fill="#FFF">43.00</text>
<rect x="2197" y="805" width="42" height="14" fill="#F00"/>
<text x="2202" y="816.5" font-family="Liberation Sans, sans-serif" font-size="12.5" fill="#FFF">37.62</text>
<rect x="2197" y="949" width="42" height="14" fill="#F00"/>
<text x="2202" y="960.5" font-family="Liberation Sans, sans-serif" font-size="12.5" fill="#FFF">26.10</text>
<rect x="2197" y="527" width="42" height="14" fill="#000"/>
<text x="2202" y="538.5" font-family="Liberation Sans, sans-serif" font-size="12.5" fill="#FFF">59.73</text>
<text x="2" y="996" font-family="Liberation Sans, sans-serif" font-size="12.5" fill="#000">6 Aug 2014</text>
<text x="98" y="996" font-family="Liberation Sans, sans-serif" font-size="12.5" fill="#000">13 Oct 2014</text>
<text x="194" y="996" font-family="Liberation Sans, sans-serif" font-size="12.5" fill="#000">18 Dec 2014</text>
<text x="290" y="996" font-family="Liberation Sans, sans-serif" font-size="12.5" fill="#000">26 Feb 2015</text>
<text x="386" y="996" font-family="Liberation Sans, sans-serif" font-size="12.5" fill="#000">6 May 2015</text>
<text x="482" y="996" font-family="Liberation Sans, sans-serif" font-size="12.5" fill="#000">13 Jul 2015</text>
<text x="578" y="996" font-family="Liberation Sans, sans-serif" font-size="12.5" fill="#000">17 Sep 2015</text>
<text x="674" y="996" font-family="Liberation Sans, sans-serif" font-size="12.5" fill="#000">24 Nov 2015</text>
<text x="770" y="996" font-family="Liberation Sans, sans-serif" font-size="12.5" fill="#000">2 Feb 2016</text>
<text x="866" y="996" font-family="Liberation Sans, sans-serif" font-size="12.5" fill="#000">13 Apr 2016</text>
<text x="962" y="996" font-family="Liberation Sans, sans-serif" font-size="12.5" fill="#000">20 Jun 2016</text>
<text x="1058" y="996" font-family="Liberation Sans, sans-serif" font-size="12.5" fill="#000">25 Aug 2016</text>
<text x="1154" y="996" font-family="Liberation Sans, sans-serif" font-size="12.5" fill="#000">1 Nov 2016</text>
<text x="1250" y="996" font-family="Liberation Sans, sans-serif" font-size="12.5" fill="#000">10 Jan 2017</text>
<text x="1346" y="996" font-family="Liberation Sans, sans-serif" font-size="12.5" fill="#000">17 Mar 2017</text>
<text x="1442" y="996" font-family="Liberation Sans, sans-serif" font-size="12.5" fill="#000">24 May 2017</text>
<text x="1538" y="996" font-family="Liberation Sans, sans-serif" font-size="12.5" fill="#000">31 Jul 2017</text>
<text x="1634" y="996" font-family="Liberation Sans, sans-serif" font-size="12.5" fill="#000">5 Oct 2017</text>
<text x="1730" y="996" font-family="Liberation Sans, sans-serif" font-size="12.5" fill="#000">12 Dec 2017</text>
<text x="7" y="17" font-family="Liberation Sans, sans-serif" font-size="11.3" fill="#000" textLength="61.5" lengthAdjust="spacingAndGlyphs">USOIL,Daily</text>
<text x="77" y="17" font-family="Liberation Sans, sans-serif" font-size="11.6" fill="#000" textLength="139.5" lengthAdjust="spacingAndGlyphs">59.49 59.76 59.49 59.73</text>
<text x="2175" y="53" font-family="Liberation Sans, sans-serif" font-size="20" fill="#FFFF00" text-anchor="end">Bid: 0.8630</text>
<text x="2175" y="73" font-family="Liberation Sans, sans-serif" font-size="20" fill="#FFFF00" text-anchor="end">Ask: 0.8633</text>
</svg>
</body></html>
